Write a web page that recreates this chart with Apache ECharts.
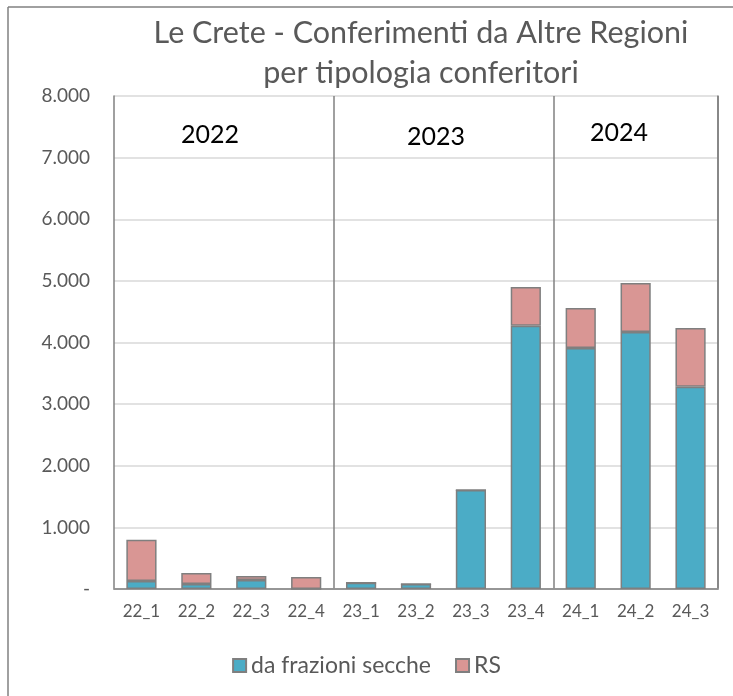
<!DOCTYPE html>
<html>
<head>
<meta charset="utf-8">
<script src="https://cdn.jsdelivr.net/npm/echarts@6/dist/echarts.min.js"></script>
<style>
  html, body { margin: 0; padding: 0; background: #fff; }
  #chart { width: 733px; height: 696px; }
</style>
</head>
<body>
<div id="chart"></div>
<script>
const categories = ['22_1', '22_2', '22_3', '22_4', '23_1', '23_2', '23_3', '23_4', '24_1', '24_2', '24_3']
const fractions = [130, 80, 145, 0, 100, 80, 1605, 4270, 3910, 4170, 3280]
const rs = [670, 180, 65, 195, 0, 0, 0, 630, 650, 795, 955]
const years = ['2022', '2023', '2024']

const font = 'Lato, "Open Sans", sans-serif'
const gray = '#595959'

function fmt(v) {
  if (v === 0) return '-'
  return String(v).replace(/\B(?=(\d{3})+(?!\d))/g, '.')
}

let chart = echarts.init(document.getElementById('chart'))

let option = {
  animation: false,
  textStyle: { fontFamily: font },
  title: {
    text: 'Le Crete - Conferimenti da Altre Regioni\nper tipologia conferitori',
    left: 416,
    top: 8,
    textAlign: 'center',
    textStyle: {
      fontFamily: font,
      fontSize: 30.5,
      fontWeight: 'normal',
      color: gray,
      lineHeight: 40
    }
  },
  grid: {
    left: 114,
    right: 15,
    top: 96,
    bottom: 107
  },
  legend: {
    top: 649,
    left: 'center',
    icon: 'rect',
    itemWidth: 13,
    itemHeight: 13,
    itemGap: 24,
    textStyle: { fontFamily: font, fontSize: 23, color: gray },
    data: ['da frazioni secche', 'RS']
  },
  xAxis: [
    {
      type: 'category',
      data: categories,
      axisLine: { lineStyle: { color: '#d9d9d9', width: 1.5 } },
      axisTick: { show: false },
      axisLabel: { color: gray, fontSize: 17, margin: 14, fontFamily: font },
      splitLine: {
        show: true,
        interval: function (index) { return index === 4 || index === 8 },
        lineStyle: { color: '#808080', width: 1.5 }
      }
    },
    {
      type: 'category',
      data: categories,
      position: 'top',
      axisLine: { lineStyle: { color: '#808080', width: 1.5 } },
      axisTick: { show: false },
      axisLabel: { show: false }
    }
  ],
  yAxis: [
    {
      type: 'value',
      min: 0,
      max: 8000,
      interval: 1000,
      axisLine: { show: true, lineStyle: { color: '#808080', width: 1.5 } },
      axisTick: { show: false },
      axisLabel: { color: gray, fontSize: 19, margin: 24, formatter: fmt, fontFamily: font },
      splitLine: { lineStyle: { color: '#d9d9d9', width: 1.5 } }
    },
    {
      type: 'value',
      min: 0,
      max: 8000,
      position: 'right',
      axisLine: { show: true, lineStyle: { color: '#808080', width: 1.5 } },
      axisTick: { show: false },
      axisLabel: { show: false },
      splitLine: { show: false }
    }
  ],
  series: [
    {
      name: 'da frazioni secche',
      type: 'bar',
      stack: 'tot',
      data: fractions,
      barCategoryGap: '45%',
      itemStyle: { color: '#4bacc6', borderColor: '#7f7f7f', borderWidth: 1.5 }
    },
    {
      name: 'RS',
      type: 'bar',
      stack: 'tot',
      data: rs,
      barCategoryGap: '45%',
      itemStyle: { color: '#d99694', borderColor: '#7f7f7f', borderWidth: 1.5 }
    }
  ],
  graphic: [
    { type: 'line', shape: { x1: 8, y1: 7, x2: 733, y2: 7 }, style: { stroke: '#808080', lineWidth: 1.5 } },
    { type: 'line', shape: { x1: 8, y1: 7, x2: 8, y2: 696 }, style: { stroke: '#808080', lineWidth: 1.5 } },
    { type: 'text', x: 210, y: 135, style: { text: years[0], font: '25px ' + font, fill: '#000', align: 'center', verticalAlign: 'middle' } },
    { type: 'text', x: 436, y: 137, style: { text: years[1], font: '25px ' + font, fill: '#000', align: 'center', verticalAlign: 'middle' } },
    { type: 'text', x: 619, y: 133, style: { text: years[2], font: '25px ' + font, fill: '#000', align: 'center', verticalAlign: 'middle' } }
  ]
}

chart.setOption(option)
</script>
</body>
</html>
